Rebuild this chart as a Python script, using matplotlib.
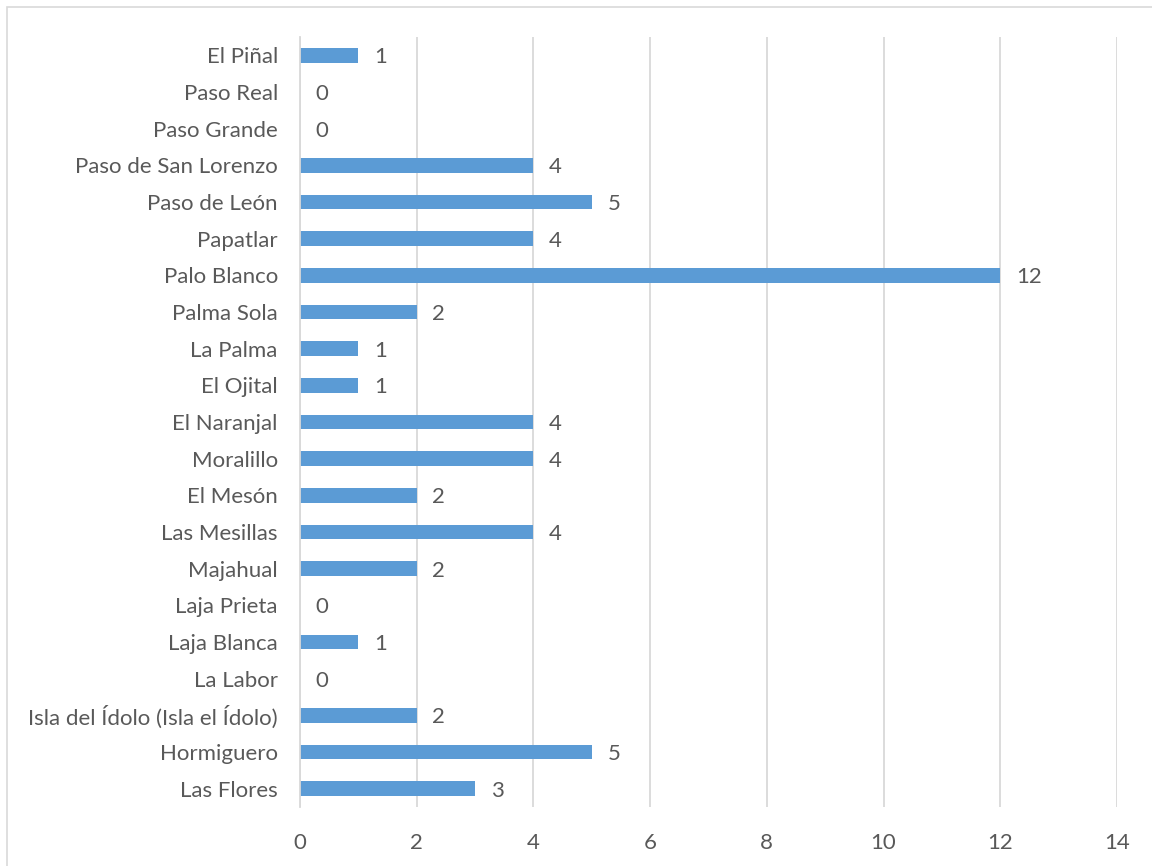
import matplotlib
matplotlib.use("Agg")
import matplotlib.pyplot as plt
from matplotlib.patches import Rectangle

# datos (de abajo hacia arriba)
localidades = ["Las Flores", "Hormiguero", "Isla del Ídolo (Isla el Ídolo)", "La Labor",
               "Laja Blanca", "Laja Prieta", "Majahual", "Las Mesillas", "El Mesón",
               "Moralillo", "El Naranjal", "El Ojital", "La Palma", "Palma Sola",
               "Palo Blanco", "Papatlar", "Paso de León", "Paso de San Lorenzo",
               "Paso Grande", "Paso Real", "El Piñal"]
valores = [3, 5, 2, 0, 1, 0, 2, 4, 2, 4, 4, 1, 1, 2, 12, 4, 5, 4, 0, 0, 1]
ticks_x = [0, 2, 4, 6, 8, 10, 12, 14]

plt.rcParams['font.family'] = ['Lato', 'DejaVu Sans']
gris = "#595959"
tam = 16

fig = plt.figure(figsize=(11.52, 8.66), dpi=100)
ax = fig.add_axes([300/1152, 1-807/866, (1117-300)/1152, (807-37)/866])

y = list(range(len(localidades)))
ax.barh(y, valores, height=0.4, color="#5B9BD5")
for yi, v in zip(y, valores):
    ax.text(v + 0.27, yi, str(v), va="center_baseline", ha="left", fontsize=tam, color=gris)

ax.set_xlim(0, 14)
ax.set_ylim(-0.5, len(localidades) - 0.5)
ax.set_xticks(ticks_x)
ax.set_yticks(y)
ax.set_yticklabels(localidades, va="center_baseline")
ax.tick_params(axis="both", length=0, labelsize=tam, colors=gris)
ax.tick_params(axis="y", pad=16)
ax.tick_params(axis="x", pad=19)
ax.xaxis.grid(True, color="#D9D9D9", linewidth=1.3)
ax.set_axisbelow(True)
for s in ["top", "right", "bottom"]:
    ax.spines[s].set_visible(False)
ax.spines["left"].set_color("#D9D9D9")
ax.spines["left"].set_linewidth(1.3)

# marco del gráfico
fig.patches.append(Rectangle((7/1152, -0.01), 1.0, 1 - 7/866 + 0.01, transform=fig.transFigure,
                             fill=False, edgecolor="#D9D9D9", linewidth=1.2))

fig.savefig("out.png", dpi=100)
